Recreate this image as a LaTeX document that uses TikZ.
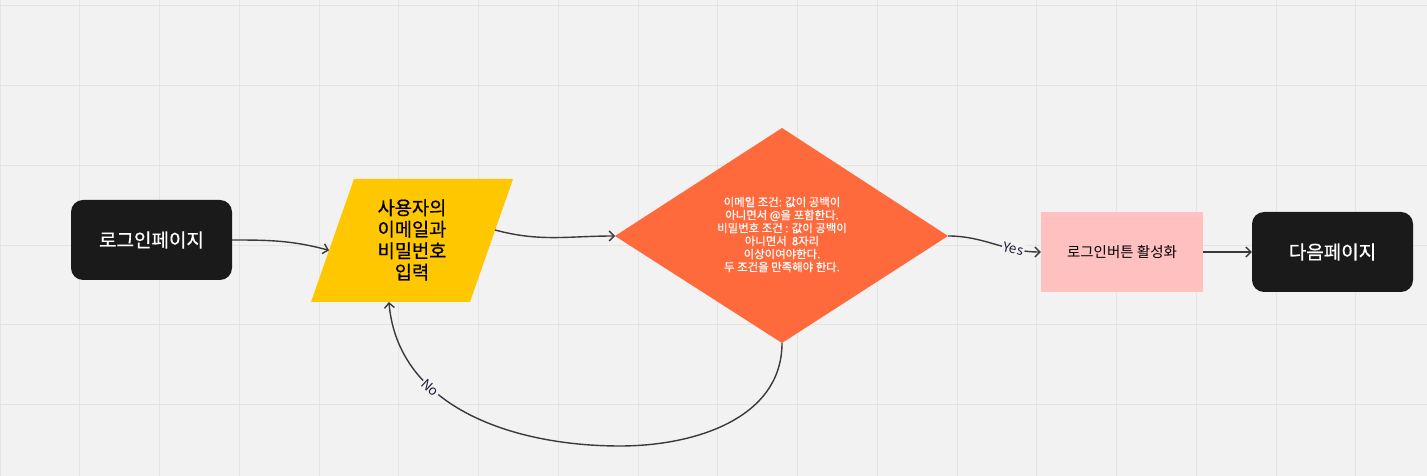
\documentclass[tikz,border=0pt]{standalone}
\usepackage{fontspec}
\setmainfont{Noto Sans CJK KR}
\newfontfamily\semib{Noto Sans CJK KR}[FakeBold=0.6]
\usetikzlibrary{arrows.meta,calc}
\definecolor{bg}{HTML}{F2F2F2}
\definecolor{gridc}{HTML}{E4E4E4}
\definecolor{boxblack}{HTML}{1A1A1A}
\definecolor{yel}{HTML}{FFC700}
\definecolor{ora}{HTML}{FF6A3D}
\definecolor{pinkc}{HTML}{FFC0C0}
\definecolor{edgec}{HTML}{3A3A3A}
\definecolor{lab}{HTML}{1C1C3A}
\begin{document}
\begin{tikzpicture}[x=1pt,y=1pt,
  blackbox/.style={fill=boxblack, rounded corners=12pt, minimum width=161pt, minimum height=80pt, text=white, font=\semib\fontsize{19}{23}\selectfont, inner sep=0pt},
  conn/.style={draw=edgec, line width=1.4pt, -{Straight Barb[length=5pt,width=10pt]}},
  lbl/.style={fill=bg, text=lab, font=\fontsize{13.5}{15}\selectfont, inner sep=1.2pt, sloped}]
\fill[bg] (0,0) rectangle (1427,476);
\useasboundingbox (0,0) rectangle (1427,476);
\foreach \i in {0,...,17} \draw[gridc, line width=0.8pt] (\i*79.75,0) -- (\i*79.75,476);
\foreach \j in {0,...,5} \draw[gridc, line width=0.8pt] (0,470.3-\j*79.75) -- (1427,470.3-\j*79.75);

\node[blackbox] (login) at (151.5,236) {로그인페이지};

\coordinate (pBL) at (311,174);
\coordinate (pBR) at (470,174);
\coordinate (pTR) at (513,297);
\coordinate (pTL) at (354,297);
\fill[yel] (pBL) -- (pBR) -- (pTR) -- (pTL) -- cycle;
\node[align=center, font=\semib\fontsize{18.7}{21.5}\selectfont] (para) at (412,236) {사용자의\\이메일과\\비밀번호\\입력};

\coordinate (dW) at (615,240);
\coordinate (dE) at (948,240);
\coordinate (dN) at (782,348);
\coordinate (dS) at (782,133);
\fill[ora] (dW) -- (dN) -- (dE) -- (dS) -- cycle;
\node[align=center, text=white, font=\semib\fontsize{11.4}{13}\selectfont] (dia) at (782,241.5)
  {이메일 조건: 값이 공백이\\아니면서 @을 포함한다.\\비밀번호 조건 : 값이 공백이\\아니면서\ \ 8자리\\이상이여야한다.\\두 조건을 만족해야 한다.};

\node[fill=pinkc, minimum width=162pt, minimum height=80pt, inner sep=0pt, font=\fontsize{14.5}{17}\selectfont] (btn) at (1122,224) {로그인버튼 활성화};
\node[blackbox] (next) at (1332.5,224) {다음페이지};

\coordinate (pL) at ($(pBL)!0.42!(pTL)$);
\coordinate (pR) at ($(pBR)!0.585!(pTR)$);
\coordinate (pB) at ($(pBL)!0.49!(pBR)$);
\coordinate (lowpt) at (620,30);

\draw[conn] (login.east) to[out=0,in=165] (pL);
\draw[conn] (pR) to[out=-15,in=180] (dW);
\draw[conn] (dE) to[out=0,in=180] node[lbl,pos=0.72]{Yes} (btn.west);
\draw[conn] (btn.east) -- (next.west);
\draw[conn] (dS) to[out=-90,in=0] (lowpt) to[out=180,in=-85] node[lbl,pos=0.66]{No} (pB);
\end{tikzpicture}
\end{document}
